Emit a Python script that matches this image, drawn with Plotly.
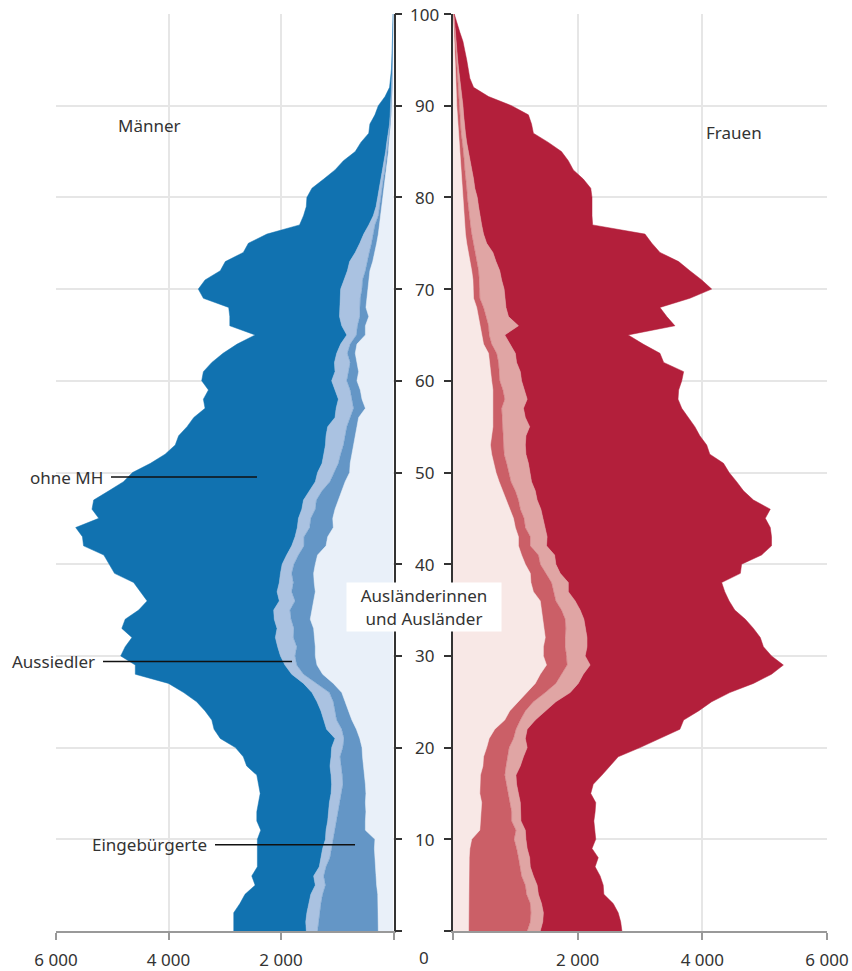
import numpy as np
import plotly.graph_objects as go

# Alter 0..100
ages = list(range(101))

# Männer (linke Seite), Werte je Altersjahr
maenner_auslaender = [
    270, 270, 280, 280, 280, 300, 310, 320, 330, 340,
    330, 500, 500, 490, 500, 490, 500, 520, 530, 550,
    560, 600, 660, 740, 800, 860, 920, 1070, 1260, 1360,
    1390, 1390, 1410, 1420, 1480, 1450, 1410, 1390, 1410, 1420,
    1390, 1350, 1200, 1170, 1070, 1080, 1040, 980, 920, 860,
    780, 770, 740, 710, 680, 650, 620, 500, 560, 590,
    650, 620, 650, 680, 650, 500, 500, 440, 490, 470,
    460, 440, 420, 370, 330, 300, 270, 250, 230, 200,
    180, 170, 140, 120, 110, 90, 80, 60, 50, 40,
    30, 25, 20, 18, 15, 12, 10, 8, 6, 5,
    3]
maenner_eingebuergert = [
    1080, 1060, 1040, 1010, 980, 910, 930, 880, 800, 760,
    740, 550, 520, 490, 450, 430, 400, 390, 400, 400,
    340, 280, 260, 270, 240, 210, 220, 290, 340, 360,
    360, 330, 370, 350, 340, 390, 340, 420, 370, 390,
    380, 340, 390, 420, 420, 390, 350, 390, 350, 270,
    280, 210, 200, 180, 180, 180, 150, 210, 180, 180,
    180, 180, 120, 140, 120, 160, 140, 160, 100, 120,
    100, 110, 80, 100, 100, 90, 90, 80, 40, 50,
    50, 40, 40, 30, 20, 30, 20, 20, 10, 10,
    10, 7, 8, 6, 5, 4, 2, 2, 2, 1,
    1]
maenner_aussiedler = [
    200, 230, 220, 220, 210, 180, 180, 120, 160, 160,
    140, 150, 150, 180, 190, 190, 200, 200, 200, 160,
    200, 160, 270, 230, 250, 290, 310, 240, 210, 210,
    260, 340, 320, 300, 300, 290, 280, 260, 250, 200,
    210, 210, 220, 160, 220, 220, 240, 230, 220, 260,
    290, 290, 300, 320, 340, 340, 270, 310, 240, 270,
    270, 240, 280, 190, 170, 170, 280, 360, 360, 360,
    380, 330, 320, 310, 250, 210, 170, 110, 90, 60,
    50, 40, 50, 40, 40, 20, 20, 10, 10, 10,
    10, 8, 7, 6, 5, 4, 4, 2, 2, 2,
    1]
maenner_ohne_mh = [
    1290, 1280, 1300, 1220, 1170, 1070, 1100, 1100, 1130, 1160,
    1210, 1160, 1260, 1270, 1260, 1260, 1300, 1320, 1480, 1560,
    1710, 2040, 2000, 1990, 2060, 2140, 2280, 2400, 2780, 2660,
    2840, 2710, 2550, 2760, 2650, 2400, 2350, 2430, 2590, 2950,
    3080, 3250, 3700, 3780, 3940, 3550, 3730, 3730, 3570, 3410,
    3290, 3050, 2820, 2670, 2620, 2500, 2510, 2330, 2400, 2250,
    2310, 2340, 2180, 2020, 1840, 1630, 1990, 1950, 1980, 2430,
    2530, 2470, 2260, 2210, 1990, 1980, 1720, 1230, 1240, 1240,
    1260, 1200, 1010, 850, 720, 540, 460, 350, 350, 270,
    220, 110, 35, 20, 11, 10, 8, 6, 2, 1,
    1]

# Frauen (rechte Seite)
frauen_auslaenderinnen = [
    250, 250, 250, 250, 250, 250, 250, 260, 260, 270,
    300, 430, 440, 460, 460, 430, 430, 440, 480, 490,
    540, 580, 670, 830, 910, 1050, 1190, 1320, 1400, 1500,
    1450, 1450, 1480, 1460, 1440, 1420, 1400, 1290, 1250, 1240,
    1160, 1100, 1050, 1050, 1000, 970, 910, 860, 800, 740,
    690, 650, 620, 600, 620, 640, 640, 640, 650, 640,
    620, 600, 590, 570, 490, 460, 430, 410, 380, 330,
    330, 320, 300, 270, 250, 220, 200, 190, 180, 170,
    160, 140, 130, 120, 110, 100, 90, 80, 70, 60,
    60, 55, 50, 42, 36, 30, 25, 20, 15, 10,
    6]
frauen_eingebuergert = [
    940, 990, 1000, 990, 930, 910, 850, 820, 790, 750,
    680, 580, 500, 480, 450, 460, 430, 390, 370, 380,
    360, 390, 340, 250, 250, 240, 290, 330, 340, 330,
    370, 350, 320, 350, 360, 320, 250, 320, 330, 250,
    240, 270, 190, 190, 160, 170, 170, 190, 200, 190,
    210, 210, 200, 210, 180, 160, 150, 140, 180, 160,
    130, 140, 140, 130, 130, 120, 140, 120, 110, 100,
    100, 100, 110, 110, 100, 110, 100, 90, 80, 80,
    70, 80, 70, 70, 70, 70, 60, 50, 50, 50,
    40, 35, 30, 26, 22, 18, 15, 12, 10, 8,
    4]
frauen_aussiedlerinnen = [
    210, 200, 200, 180, 190, 190, 190, 160, 180, 170,
    190, 150, 150, 150, 170, 160, 160, 180, 230, 260,
    290, 190, 180, 240, 320, 360, 400, 360, 350, 370,
    300, 350, 350, 320, 300, 300, 310, 240, 270, 230,
    250, 260, 260, 270, 320, 310, 330, 300, 320, 330,
    340, 350, 350, 350, 370, 430, 370, 350, 360, 340,
    350, 340, 290, 300, 290, 250, 480, 360, 360, 400,
    390, 360, 340, 310, 290, 210, 190, 180, 170, 160,
    160, 130, 130, 110, 90, 80, 70, 70, 60, 60,
    60, 50, 45, 37, 32, 27, 22, 18, 15, 12,
    5]
frauen_ohne_mh = [
    1310, 1250, 1200, 1150, 1050, 1060, 1070, 1040, 1100, 1040,
    1120, 1120, 1170, 1190, 1210, 1160, 1230, 1380, 1440, 1520,
    1810, 2160, 2450, 2380, 2460, 2500, 2560, 2810, 3020, 3100,
    2990, 2830, 2780, 2690, 2590, 2480, 2470, 2510, 2460, 2890,
    2980, 3320, 3610, 3600, 3610, 3560, 3680, 3470, 3340, 3290,
    3190, 3130, 2950, 2910, 2790, 2650, 2620, 2540, 2420, 2480,
    2570, 2620, 2360, 2320, 2140, 1980, 2510, 2540, 2470, 2970,
    3330, 3210, 3050, 2930, 2680, 2650, 2590, 1780, 1800, 1820,
    1840, 1860, 1760, 1630, 1580, 1490, 1310, 1090, 1080, 1040,
    780, 430, 205, 165, 160, 145, 128, 110, 70, 40,
    5]

blau = ["#e9f0f9", "#6496c6", "#aac2e1", "#1172b0"]
rot = ["#f8e8e6", "#cb5f67", "#e0a5a4", "#b31f3b"]

FONT = "Noto Sans"
GRID = "#e6e6e6"

fig = go.Figure()

def add_side(layers, colors, xa, ya):
    cum = np.cumsum(np.array(layers, dtype=float), axis=0)
    for i, row in enumerate(cum):
        fig.add_trace(go.Scatter(
            x=row, y=ages, xaxis=xa, yaxis=ya,
            mode="lines",
            line=dict(color=colors[i], width=0.5),
            fill="tozerox" if i == 0 else "tonextx",
            fillcolor=colors[i],
            hoverinfo="skip", showlegend=False
        ))

add_side([maenner_auslaender, maenner_eingebuergert, maenner_aussiedler, maenner_ohne_mh],
         blau, "x", "y")
add_side([frauen_auslaenderinnen, frauen_eingebuergert, frauen_aussiedlerinnen, frauen_ohne_mh],
         rot, "x2", "y2")

xtick = dict(tickvals=[0, 2000, 4000, 6000], ticktext=["", "2 000", "4 000", "6 000"],
             showline=True, linecolor="#999", linewidth=1.5,
             ticks="outside", ticklen=7, tickcolor="#999", tickwidth=1.5,
             showgrid=True, gridcolor=GRID, gridwidth=1.5, zeroline=False,
             ticklabelstandoff=6, automargin=False, tickfont=dict(size=17))
ytick = dict(range=[0, 100], tickvals=list(range(0, 101, 10)), showticklabels=False,
             showline=True, linecolor="#333", linewidth=1.5,
             ticks="outside", ticklen=7, tickcolor="#333", tickwidth=1.5,
             showgrid=True, gridcolor=GRID, gridwidth=1.5, zeroline=False,
             automargin=False)

LEFT_END = (393.5 - 56) / 771
RIGHT_START = (453 - 56) / 771
MID = (424 - 56) / 771

fig.update_layout(
    width=852, height=971,
    margin=dict(l=56, r=25, t=14, b=40, autoexpand=False),
    plot_bgcolor="white", paper_bgcolor="white",
    font=dict(family=FONT, size=17, color="#333"),
    xaxis=dict(domain=[0, LEFT_END], range=[6000, 0], anchor="y", **xtick),
    xaxis2=dict(domain=[RIGHT_START, 1], range=[0, 6000], anchor="y2", **xtick),
    yaxis=dict(anchor="x", side="right", **ytick),
    yaxis2=dict(anchor="x2", side="left", matches="y", **ytick),
    hovermode=False,
)

# Alters-Beschriftung in der Mitte
for v in range(10, 101, 10):
    fig.add_annotation(x=MID, xref="paper", y=v, yref="y", text=str(v),
                       showarrow=False, xanchor="center", font=dict(size=17))
fig.add_annotation(x=MID, xref="paper", y=-0.029, yref="paper", text="0",
                   showarrow=False, xanchor="center", yanchor="middle", font=dict(size=17))

fig.add_annotation(x=4338, xref="x", y=87.8, yref="y", text="Männer",
                   showarrow=False, xanchor="center")
fig.add_annotation(x=4027, xref="x2", y=87.1, yref="y2", text="Frauen",
                   showarrow=False, xanchor="left")
fig.add_annotation(x=MID, xref="paper", y=35.3, yref="y",
                   text="Ausländerinnen<br>und Ausländer",
                   showarrow=False, bgcolor="white", width=152, height=46)

# Beschriftungen mit Linien
labels = [("ohne MH", 5022, 2427, 49.5),
          ("Aussiedler", 5164, 1804, 29.4),
          ("Eingebürgerte", 3173, 684, 9.4)]
for txt, x0, x1, y in labels:
    fig.add_shape(type="line", xref="x", yref="y", x0=x0, x1=x1, y0=y, y1=y,
                  line=dict(color="#111", width=1.5))
    fig.add_annotation(x=x0, xref="x", y=y, yref="y", text=txt, showarrow=False,
                       xanchor="right", xshift=-6)

# Seitenrand des Browsers entfernen, damit die Grafik bei (0,0) beginnt
fig.write_html("out.html",
               config={"displayModeBar": False},
               post_script="document.body.style.margin='0';document.body.style.overflow='hidden';")
